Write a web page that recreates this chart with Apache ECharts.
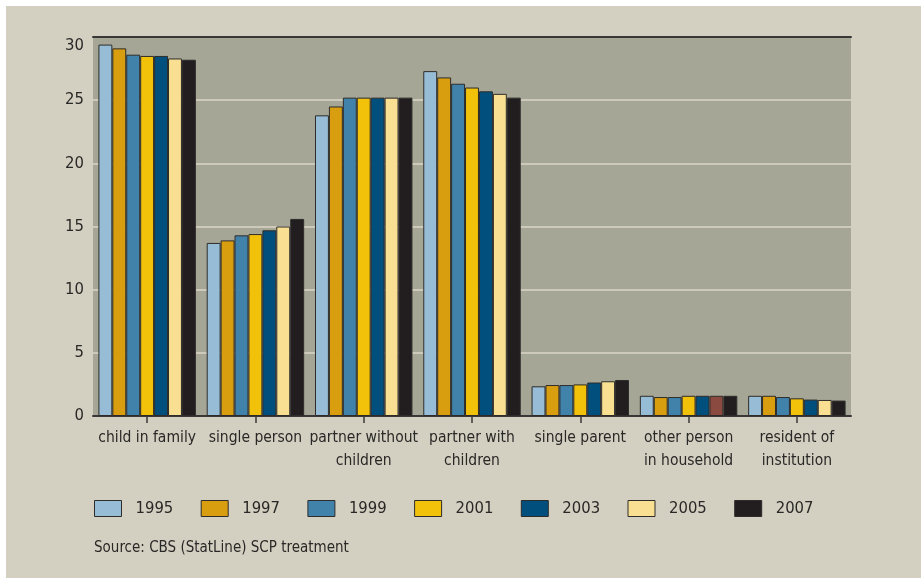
<!DOCTYPE html>
<html><head><meta charset="utf-8">
<script src="https://cdn.jsdelivr.net/npm/echarts@6/dist/echarts.min.js"></script>
<style>
html,body{margin:0;padding:0;background:#ffffff;}
#wrap{position:absolute;left:0;top:0;width:921px;height:578px;}
#chart{width:921px;height:578px;}
#wl{position:absolute;left:0;top:0;width:6px;height:578px;background:#fff;}
#wt{position:absolute;left:0;top:0;width:921px;height:6px;background:#fff;}
</style></head>
<body>
<div id="wrap"><div id="chart"></div><div id="wl"></div><div id="wt"></div></div>
<script>
const categories = ['child in family','single person','partner without\nchildren','partner with\nchildren','single parent','other person\nin household','resident of\ninstitution'];
const years = ['1995','1997','1999','2001','2003','2005','2007'];
const y1995 = [29.4, 13.7, 23.8, 27.3, 2.35, 1.6, 1.6];
const y1997 = [29.1, 13.9, 24.5, 26.8, 2.45, 1.5, 1.6];
const y1999 = [28.6, 14.3, 25.2, 26.3, 2.45, 1.5, 1.5];
const y2001 = [28.5, 14.4, 25.2, 26.0, 2.5, 1.6, 1.4];
const y2003 = [28.5, 14.7, 25.2, 25.7, 2.65, 1.6, 1.3];
const y2005 = [28.3, 15.0, 25.2, 25.5, 2.75, 1.6, 1.27];
const y2007 = [28.2, 15.6, 25.2, 25.2, 2.85, 1.6, 1.22];
const seriesValues = [y1995, y1997, y1999, y2001, y2003, y2005, y2007];
const yTicks = [0, 5, 10, 15, 20, 25, 30];

const colors = ['#97bcd5','#d99e10','#4182ab','#f2c10a','#004f7c','#f8df91','#221e1f'];
const FONT = "'Liberation Sans Narrow','DejaVu Sans Condensed',sans-serif";

const chart = echarts.init(document.getElementById('chart'), null, {renderer:'canvas'});
const series = years.map((y, si) => ({
  name: y,
  type: 'bar',
  xAxisIndex: 0,
  barGap: '0%',
  barCategoryGap: '10%',
  itemStyle: {color: colors[si], borderColor: '#2e2c2a', borderWidth: 1},
  data: seriesValues[si].map((v, ci) => (si === 5 && ci === 5) ? {value: v, itemStyle: {color: '#8a4a40'}} : v)
}));

const legends = years.map((y, i) => ({
  data: [y],
  left: 94 + i * 106.7, top: 500,
  padding: 0,
  itemWidth: 27, itemHeight: 16,
  icon: 'rect',
  selectedMode: false,
  itemStyle: {borderColor: '#2e2c2a', borderWidth: 1},
  textStyle: {fontFamily: FONT, fontSize: 16.5, color: '#2a2826', padding: [0,0,0,9]}
}));

chart.setOption({
  backgroundColor: '#d3d0c2',
  animation: false,
  color: colors,
  grid: {left: 93, right: 70, top: 37, bottom: 162, show: true, backgroundColor: '#a6a696', borderWidth: 0},
  xAxis: [{
    type: 'category',
    data: categories,
    axisLine: {show: true, lineStyle: {color: '#3a3836', width: 2}},
    axisTick: {show: true, alignWithLabel: true, length: 7, lineStyle: {color: '#3a3836', width: 1.5}},
    axisLabel: {fontFamily: FONT, fontSize: 15.5, color: '#2a2826', margin: 11, lineHeight: 22.5, interval: 0}
  },{
    type: 'category',
    position: 'top',
    data: categories,
    axisLine: {show: true, lineStyle: {color: '#3a3836', width: 2}},
    axisTick: {show: false},
    axisLabel: {show: false}
  }],
  yAxis: {
    type: 'value',
    min: yTicks[0], max: yTicks[yTicks.length-1], interval: 5,
    axisLine: {show: false},
    axisTick: {show: false},
    splitLine: {show: true, lineStyle: {color: '#cdcabb', width: 2}},
    axisLabel: {fontFamily: FONT, fontSize: 16.5, color: '#2a2826', margin: 9, verticalAlignMaxLabel: 'top'}
  },
  legend: legends,
  graphic: [{
    type: 'text', left: 94, top: 541,
    style: {text: 'Source: CBS (StatLine) SCP treatment', fontFamily: FONT, fontSize: 15, fill: '#2a2826'}
  }],
  series: series
});
</script>
</body></html>
